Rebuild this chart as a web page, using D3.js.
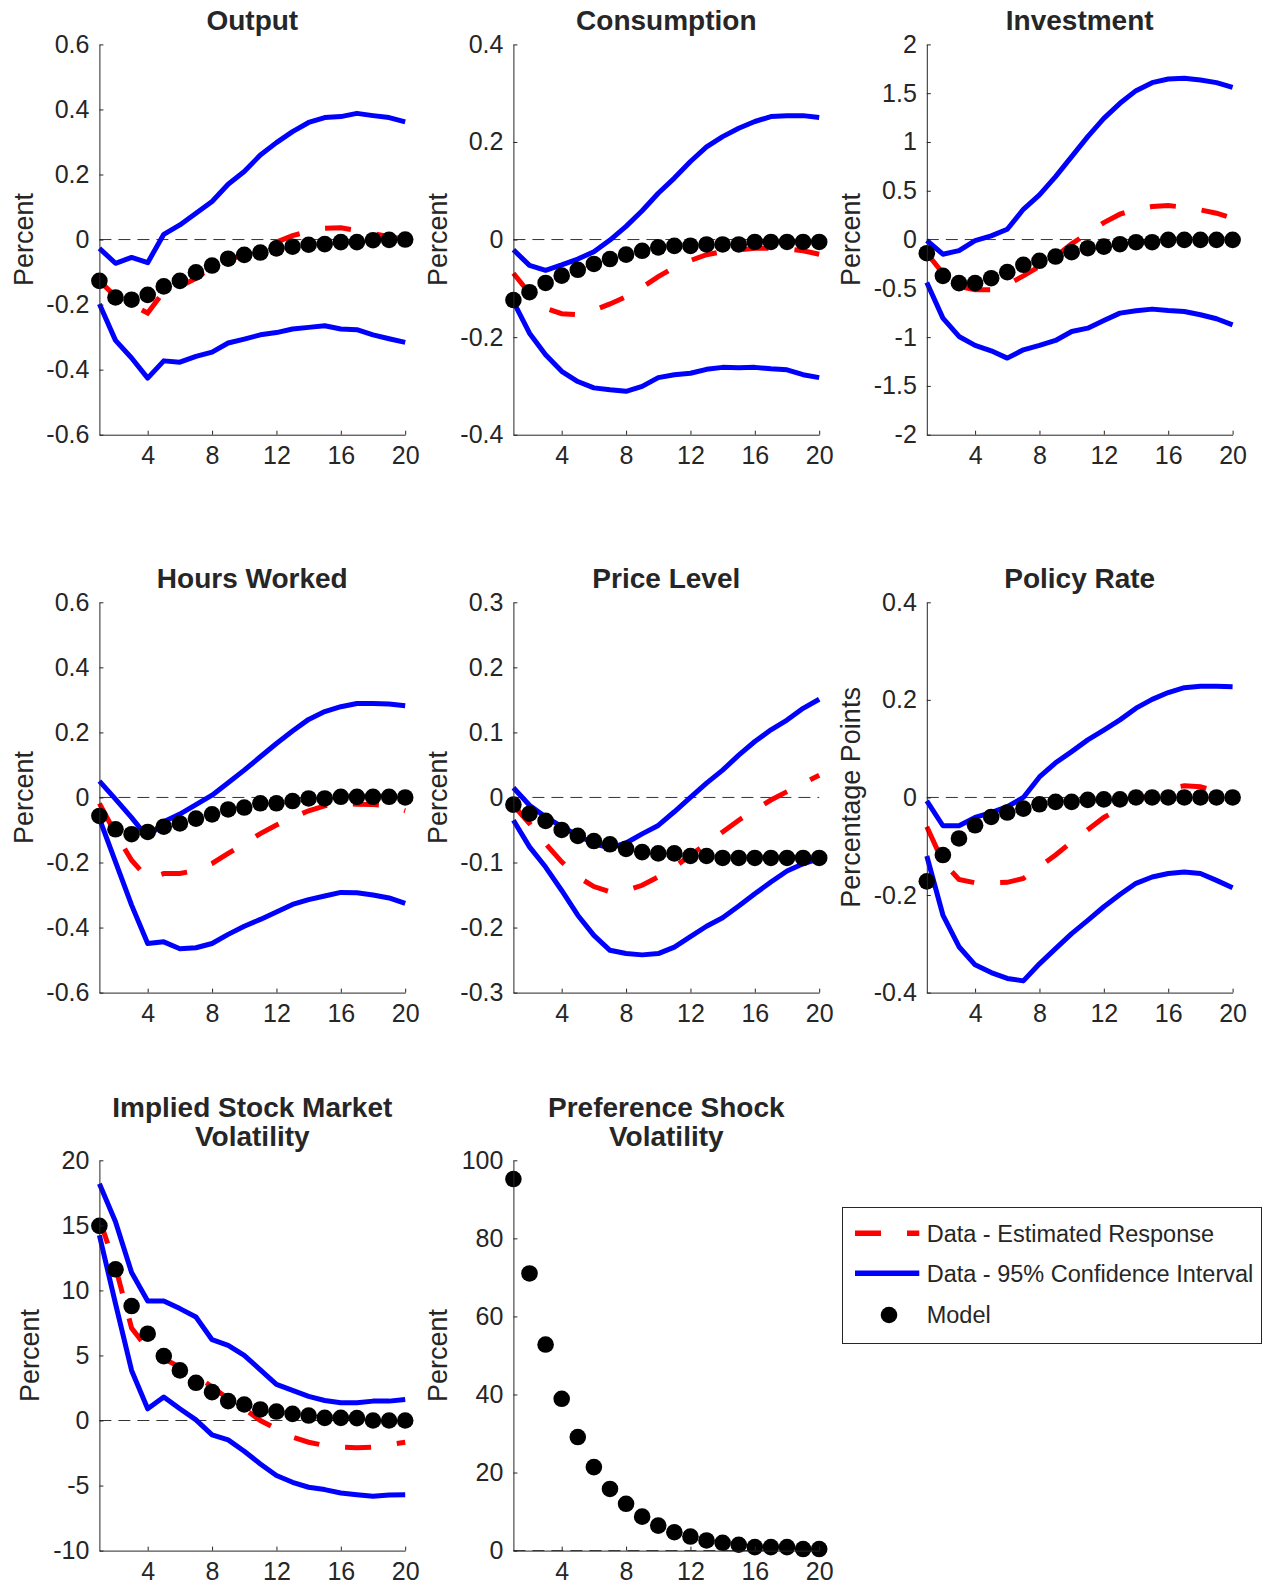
<!DOCTYPE html>
<html><head><meta charset="utf-8">
<script src="https://cdn.jsdelivr.net/npm/d3@7"></script>
<style>
body{margin:0;background:#fff}
svg{display:block}
text{font-family:"Liberation Sans",Arial,Helvetica,sans-serif;fill:#262626}
</style>
</head><body>
<svg id="chart" width="1263" height="1588"></svg>
<script>
// ---------- data ----------
const horizons = [1,2,3,4,5,6,7,8,9,10,11,12,13,14,15,16,17,18,19,20];
const xTicks = [4,8,12,16,20];

const outputTicks = [-0.6,-0.4,-0.2,0,0.2,0.4,0.6];
const outputUpper = [-0.027,-0.073,-0.055,-0.071,0.016,0.045,0.081,0.117,0.170,0.209,0.260,0.298,0.332,0.360,0.375,0.378,0.388,0.381,0.375,0.362];
const outputLower = [-0.198,-0.310,-0.364,-0.426,-0.373,-0.377,-0.359,-0.346,-0.318,-0.306,-0.293,-0.286,-0.275,-0.270,-0.265,-0.275,-0.277,-0.293,-0.305,-0.316];
const outputEst   = [-0.127,-0.175,-0.200,-0.226,-0.160,-0.144,-0.119,-0.083,-0.062,-0.047,-0.030,-0.008,0.012,0.025,0.035,0.036,0.028,0.019,0.009,0.001];
const outputModel = [-0.127,-0.178,-0.185,-0.170,-0.144,-0.127,-0.101,-0.080,-0.059,-0.047,-0.040,-0.027,-0.022,-0.016,-0.014,-0.008,-0.008,-0.002,-0.001,0.000];

const consTicks = [-0.4,-0.2,0,0.2,0.4];
const consUpper = [-0.021,-0.053,-0.063,-0.052,-0.040,-0.025,-0.001,0.027,0.059,0.095,0.126,0.160,0.190,0.211,0.228,0.242,0.252,0.254,0.254,0.250];
const consLower = [-0.127,-0.192,-0.236,-0.270,-0.291,-0.304,-0.308,-0.311,-0.301,-0.283,-0.277,-0.274,-0.266,-0.262,-0.263,-0.262,-0.265,-0.267,-0.277,-0.283];
const consEst   = [-0.069,-0.110,-0.141,-0.152,-0.154,-0.145,-0.132,-0.117,-0.098,-0.076,-0.057,-0.043,-0.031,-0.025,-0.021,-0.018,-0.018,-0.019,-0.023,-0.030];
const consModel = [-0.124,-0.108,-0.089,-0.074,-0.062,-0.050,-0.040,-0.031,-0.023,-0.016,-0.013,-0.013,-0.010,-0.010,-0.010,-0.005,-0.005,-0.005,-0.005,-0.005];

const invTicks = [-2,-1.5,-1,-0.5,0,0.5,1,1.5,2];
const invUpper = [-0.01,-0.15,-0.113,-0.01,0.038,0.106,0.31,0.457,0.645,0.85,1.055,1.242,1.396,1.526,1.608,1.645,1.652,1.635,1.608,1.56];
const invLower = [-0.44,-0.805,-0.993,-1.085,-1.14,-1.215,-1.13,-1.085,-1.034,-0.942,-0.908,-0.829,-0.754,-0.73,-0.713,-0.727,-0.737,-0.771,-0.812,-0.874];
const invEst   = [-0.14,-0.345,-0.48,-0.515,-0.515,-0.464,-0.372,-0.276,-0.174,-0.044,0.065,0.174,0.26,0.31,0.338,0.348,0.331,0.304,0.27,0.218];
const invModel = [-0.14,-0.372,-0.447,-0.447,-0.396,-0.334,-0.259,-0.218,-0.174,-0.13,-0.089,-0.072,-0.048,-0.027,-0.027,-0.003,-0.003,-0.003,-0.003,-0.003];

const hoursTicks = [-0.6,-0.4,-0.2,0,0.2,0.4,0.6];
const hoursUpper = [0.05,-0.005,-0.062,-0.123,-0.075,-0.051,-0.022,0.007,0.045,0.084,0.125,0.166,0.204,0.24,0.264,0.279,0.289,0.289,0.287,0.282];
const hoursLower = [-0.065,-0.198,-0.331,-0.449,-0.444,-0.465,-0.462,-0.449,-0.421,-0.396,-0.375,-0.352,-0.329,-0.314,-0.303,-0.292,-0.293,-0.3,-0.309,-0.326];
const hoursEst   = [-0.018,-0.111,-0.193,-0.249,-0.234,-0.234,-0.224,-0.203,-0.172,-0.142,-0.111,-0.085,-0.062,-0.041,-0.026,-0.018,-0.021,-0.022,-0.026,-0.041];
const hoursModel = [-0.057,-0.098,-0.113,-0.106,-0.09,-0.08,-0.065,-0.052,-0.037,-0.031,-0.018,-0.018,-0.011,-0.003,-0.003,0.002,0.002,0.002,0.002,0];

const priceTicks = [-0.3,-0.2,-0.1,0,0.1,0.2,0.3];
const priceUpper = [0.015,-0.012,-0.03,-0.045,-0.058,-0.071,-0.078,-0.07,-0.056,-0.043,-0.022,0,0.022,0.042,0.065,0.086,0.104,0.119,0.137,0.151];
const priceLower = [-0.035,-0.076,-0.107,-0.143,-0.181,-0.212,-0.235,-0.24,-0.242,-0.24,-0.23,-0.214,-0.198,-0.185,-0.167,-0.148,-0.13,-0.113,-0.102,-0.094];
const priceEst   = [-0.012,-0.04,-0.071,-0.099,-0.122,-0.137,-0.145,-0.143,-0.135,-0.122,-0.107,-0.089,-0.071,-0.053,-0.035,-0.019,-0.004,0.009,0.022,0.034];
const priceModel = [-0.011,-0.025,-0.036,-0.05,-0.059,-0.067,-0.072,-0.079,-0.084,-0.086,-0.086,-0.09,-0.09,-0.093,-0.093,-0.093,-0.093,-0.093,-0.093,-0.093];

const policyTicks = [-0.4,-0.2,0,0.2,0.4];
const policyUpper = [-0.007,-0.058,-0.058,-0.041,-0.031,-0.019,0,0.042,0.071,0.094,0.118,0.138,0.159,0.183,0.201,0.215,0.225,0.228,0.228,0.227];
const policyLower = [-0.12,-0.241,-0.306,-0.343,-0.359,-0.371,-0.376,-0.341,-0.31,-0.279,-0.252,-0.224,-0.199,-0.176,-0.163,-0.156,-0.153,-0.156,-0.17,-0.185];
const policyEst   = [-0.06,-0.132,-0.168,-0.175,-0.175,-0.174,-0.166,-0.142,-0.118,-0.091,-0.066,-0.041,-0.023,-0.007,0.008,0.018,0.024,0.022,0.012,0.007];
const policyModel = [-0.172,-0.118,-0.084,-0.057,-0.04,-0.031,-0.023,-0.014,-0.009,-0.009,-0.005,-0.004,-0.004,0,0,0,0,0,0,0];

const volTicks = [-10,-5,0,5,10,15,20];
const volUpper = [18.2,15.27,11.37,9.19,9.19,8.6,7.95,6.21,5.77,5.0,3.9,2.77,2.31,1.85,1.54,1.36,1.36,1.49,1.49,1.62];
const volLower = [14.24,8.98,3.85,0.9,1.8,0.9,0.05,-1.1,-1.49,-2.36,-3.34,-4.23,-4.75,-5.13,-5.31,-5.57,-5.7,-5.83,-5.72,-5.7];
const volEst   = [15.5,11.8,7.1,5.5,4.75,4.1,3.46,2.57,1.67,0.9,0,-0.64,-1.28,-1.67,-1.92,-2.05,-2.1,-2.05,-1.85,-1.67];
const volModel = [14.96,11.62,8.8,6.67,4.95,3.85,2.9,2.18,1.49,1.23,0.85,0.69,0.51,0.38,0.2,0.2,0.18,0,0,0];

const prefTicks = [0,20,40,60,80,100];
const prefModel = [95.2,71.0,52.8,38.9,29.1,21.4,15.8,12.0,8.7,6.4,4.7,3.6,2.6,2.0,1.5,0.9,0.9,0.9,0.4,0.4];

const legendLabels = ["Data - Estimated Response","Data - 95% Confidence Interval","Model"];

// ---------- layout ----------
const colX = [99.4, 513.4, 926.8];
const rowY = [44.4, 602.3, 1160.3];
const plotW = 305.8, plotH = 390.3;

const panels = [
  {title:["Output"], ylabel:"Percent", ticks:outputTicks, upper:outputUpper, lower:outputLower, est:outputEst, model:outputModel, c:0, r:0},
  {title:["Consumption"], ylabel:"Percent", ticks:consTicks, upper:consUpper, lower:consLower, est:consEst, model:consModel, c:1, r:0},
  {title:["Investment"], ylabel:"Percent", ticks:invTicks, upper:invUpper, lower:invLower, est:invEst, model:invModel, c:2, r:0},
  {title:["Hours Worked"], ylabel:"Percent", ticks:hoursTicks, upper:hoursUpper, lower:hoursLower, est:hoursEst, model:hoursModel, c:0, r:1},
  {title:["Price Level"], ylabel:"Percent", ticks:priceTicks, upper:priceUpper, lower:priceLower, est:priceEst, model:priceModel, c:1, r:1},
  {title:["Policy Rate"], ylabel:"Percentage Points", ticks:policyTicks, upper:policyUpper, lower:policyLower, est:policyEst, model:policyModel, c:2, r:1},
  {title:["Implied Stock Market","Volatility"], ylabel:"Percent", ticks:volTicks, upper:volUpper, lower:volLower, est:volEst, model:volModel, c:0, r:2, labelOff:60.5},
  {title:["Preference Shock","Volatility"], ylabel:"Percent", ticks:prefTicks, upper:null, lower:null, est:null, model:prefModel, c:1, r:2}
];

const svg = d3.select("#chart");
const INK = "#262626";

panels.forEach(p => {
  const x0 = colX[p.c], y0 = rowY[p.r];
  const g = svg.append("g").attr("transform", `translate(${x0},${y0})`);
  const x = d3.scaleLinear().domain([1,20]).range([0, plotW]);
  const y = d3.scaleLinear().domain(d3.extent(p.ticks)).range([plotH, 0]);

  // zero line
  g.append("line")
    .attr("x1", x(1)).attr("x2", x(20)).attr("y1", y(0)).attr("y2", y(0))
    .attr("stroke", "#333").attr("stroke-width", 1).attr("stroke-dasharray", "12,7");

  const line = d3.line().x((d,i) => x(horizons[i])).y(d => y(d));
  if (p.est) {
    g.append("path").attr("d", line(p.est)).attr("fill","none")
      .attr("stroke","#ff0000").attr("stroke-width",5).attr("stroke-dasharray","26,26");
  }
  if (p.upper) {
    [p.upper, p.lower].forEach(s => {
      g.append("path").attr("d", line(s)).attr("fill","none")
        .attr("stroke","#0000ff").attr("stroke-width",5).attr("stroke-linejoin","round");
    });
  }
  g.selectAll("circle.m").data(p.model).join("circle").attr("class","m")
    .attr("cx",(d,i)=>x(horizons[i])).attr("cy",d=>y(d)).attr("r",8.3).attr("fill","#000");

  // axes
  const ya = g.append("g").call(d3.axisLeft(y).tickValues(p.ticks).tickFormat(d => String(d))
      .tickSizeInner(-4).tickSizeOuter(0).tickPadding(10));
  const xa = g.append("g").attr("transform", `translate(0,${plotH})`)
    .call(d3.axisBottom(x).tickValues(xTicks).tickFormat(d => String(d))
      .tickSizeInner(-4).tickSizeOuter(0).tickPadding(12));
  [ya, xa].forEach(a => {
    a.selectAll("path,line").attr("stroke", INK).attr("stroke-width", 1);
    a.selectAll("text").attr("fill", INK).style("font-size","25px")
      .style("font-family",'"Liberation Sans",Arial,Helvetica,sans-serif');
  });

  // title
  const tl = p.title.length;
  p.title.forEach((t, i) => {
    svg.append("text")
      .attr("x", x0 + plotW/2)
      .attr("y", y0 - 14 - (tl - 1 - i) * 29)
      .attr("text-anchor","middle")
      .style("font-size","28px").style("font-weight","bold").attr("fill","#000")
      .text(t);
  });

  // y label
  const off = p.labelOff || 66.5;
  svg.append("text")
    .attr("transform", `translate(${x0 - off},${y0 + plotH/2}) rotate(-90)`)
    .attr("text-anchor","middle")
    .style("font-size","27px").attr("fill", INK)
    .text(p.ylabel);
});

// ---------- legend ----------
const lg = svg.append("g");
lg.append("rect").attr("x",842.5).attr("y",1207.5).attr("width",419).attr("height",136)
  .attr("fill","#fff").attr("stroke",INK).attr("stroke-width",1);
const rowsY = [1233.3, 1273.3, 1315];
lg.append("line").attr("x1",855).attr("x2",919.3).attr("y1",rowsY[0]).attr("y2",rowsY[0])
  .attr("stroke","#ff0000").attr("stroke-width",5.5).attr("stroke-dasharray","26,26");
lg.append("line").attr("x1",855).attr("x2",919.3).attr("y1",rowsY[1]).attr("y2",rowsY[1])
  .attr("stroke","#0000ff").attr("stroke-width",5.5);
lg.append("circle").attr("cx",889).attr("cy",rowsY[2]).attr("r",8.3).attr("fill","#000");
legendLabels.forEach((t,i) => {
  lg.append("text").attr("x",926.7).attr("y",rowsY[i]).attr("dy","0.36em")
    .style("font-size","23.5px").attr("fill","#000").text(t);
});
</script>
</body></html>
